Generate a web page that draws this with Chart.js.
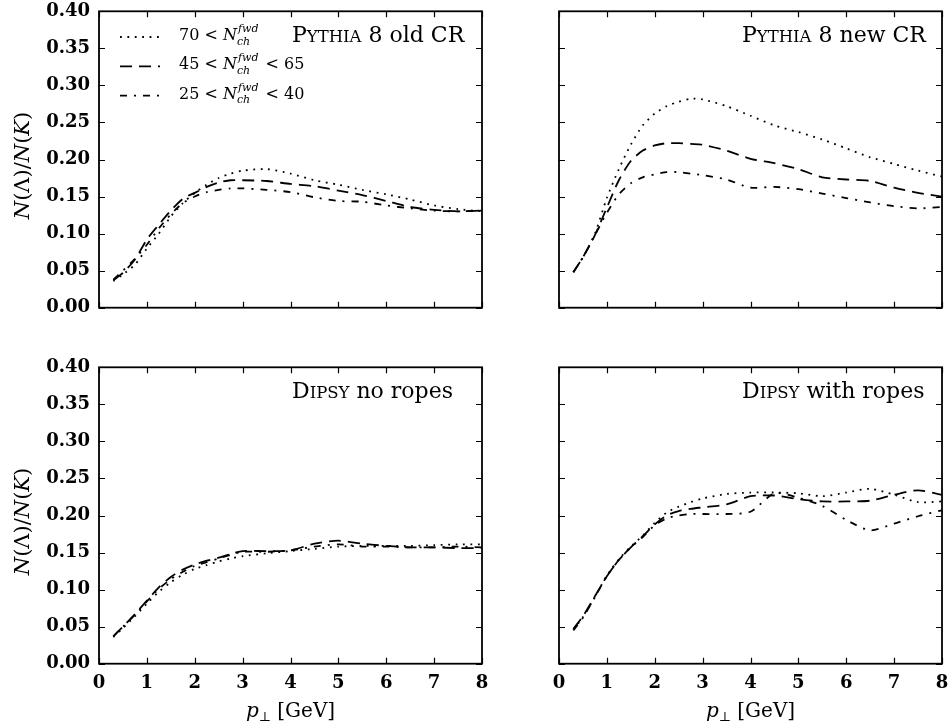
<!DOCTYPE html>
<html>
<head>
<meta charset="utf-8">
<script src="https://cdn.jsdelivr.net/npm/chart.js@4.4.1/dist/chart.umd.min.js"></script>
<style>
  html, body { margin: 0; padding: 0; background: #fff; }
  #wrap { position: relative; width: 949px; height: 727px; }
  #wrap canvas { position: absolute; left: 0; top: 0; }
</style>
</head>
<body>
<div id="wrap">
  <canvas id="c0" width="949" height="727"></canvas>
  <canvas id="c1" width="949" height="727"></canvas>
  <canvas id="c2" width="949" height="727"></canvas>
  <canvas id="c3" width="949" height="727"></canvas>
</div>
<script>
// p_perp bins [GeV]
const pT = [0.3, 0.5, 0.75, 1.0, 1.25, 1.5, 1.75, 2.0, 2.25, 2.5, 2.75, 3.0, 3.5, 4.0, 4.5, 5.0, 5.5, 6.0, 6.5, 7.0, 7.5, 8.0];

// Pythia 8 old CR
const oldCR70 = [0.036, 0.045, 0.058, 0.080, 0.100, 0.123, 0.141, 0.155, 0.166, 0.175, 0.181, 0.185, 0.187, 0.181, 0.172, 0.166, 0.159, 0.153, 0.146, 0.138, 0.133, 0.130];
const oldCR45 = [0.037, 0.047, 0.065, 0.092, 0.112, 0.131, 0.147, 0.155, 0.163, 0.169, 0.172, 0.172, 0.171, 0.167, 0.164, 0.158, 0.152, 0.144, 0.136, 0.132, 0.130, 0.131];
const oldCR25 = [0.038, 0.050, 0.066, 0.085, 0.107, 0.126, 0.141, 0.150, 0.156, 0.159, 0.161, 0.161, 0.159, 0.156, 0.149, 0.144, 0.143, 0.138, 0.134, 0.131, 0.130, 0.131];

// Pythia 8 new CR
const newCR70 = [0.048, 0.068, 0.100, 0.148, 0.187, 0.220, 0.246, 0.262, 0.272, 0.278, 0.282, 0.281, 0.272, 0.259, 0.246, 0.237, 0.227, 0.215, 0.203, 0.194, 0.185, 0.177];
const newCR45 = [0.048, 0.068, 0.098, 0.135, 0.172, 0.198, 0.212, 0.219, 0.222, 0.222, 0.221, 0.220, 0.212, 0.201, 0.195, 0.187, 0.176, 0.173, 0.171, 0.162, 0.155, 0.150];
const newCR25 = [0.048, 0.068, 0.098, 0.128, 0.153, 0.168, 0.176, 0.180, 0.183, 0.183, 0.181, 0.179, 0.173, 0.162, 0.163, 0.160, 0.154, 0.148, 0.142, 0.137, 0.134, 0.136];

// Dipsy no ropes
const noRopes70 = [0.036, 0.048, 0.064, 0.081, 0.097, 0.110, 0.120, 0.128, 0.133, 0.138, 0.142, 0.145, 0.149, 0.152, 0.155, 0.158, 0.159, 0.159, 0.159, 0.160, 0.161, 0.161];
const noRopes45 = [0.037, 0.050, 0.067, 0.085, 0.103, 0.117, 0.127, 0.134, 0.139, 0.143, 0.148, 0.152, 0.152, 0.153, 0.162, 0.166, 0.162, 0.159, 0.157, 0.157, 0.156, 0.156];
const noRopes25 = [0.037, 0.050, 0.066, 0.084, 0.101, 0.114, 0.124, 0.132, 0.137, 0.142, 0.147, 0.151, 0.151, 0.153, 0.158, 0.161, 0.158, 0.158, 0.157, 0.157, 0.158, 0.157];

// Dipsy with ropes
const ropes70 = [0.046, 0.063, 0.090, 0.119, 0.141, 0.158, 0.173, 0.190, 0.204, 0.212, 0.218, 0.223, 0.229, 0.231, 0.231, 0.230, 0.226, 0.231, 0.236, 0.228, 0.218, 0.219];
const ropes45 = [0.047, 0.064, 0.091, 0.118, 0.140, 0.157, 0.172, 0.188, 0.200, 0.206, 0.209, 0.211, 0.215, 0.226, 0.227, 0.222, 0.219, 0.219, 0.220, 0.228, 0.234, 0.228];
const ropes25 = [0.045, 0.062, 0.090, 0.118, 0.140, 0.157, 0.171, 0.187, 0.196, 0.200, 0.202, 0.202, 0.202, 0.205, 0.230, 0.224, 0.213, 0.194, 0.180, 0.189, 0.199, 0.207];

const xTickLabels = ['0', '1', '2', '3', '4', '5', '6', '7', '8'];
const yTickLabels = ['0.00', '0.05', '0.10', '0.15', '0.20', '0.25', '0.30', '0.35', '0.40'];

// legend: "lo < N_ch^fwd < hi"
const binLow = ['70', '45', '25'];
const binHigh = ['', '65', '40'];

const SERIF = '"DejaVu Serif", "Liberation Serif", serif';
const W = 949, H = 727;
const Y_W = 90, X_H = 60;
const dashes = [[1.8, 5.6], [12, 7], [7, 7, 2, 7]];

const panels = [
  { id: 'c0', sets: [oldCR70, oldCR45, oldCR25], left: 99, right: 482, top: 11.3, bottom: 307.7,
    yAxis: true, xAxis: false, legend: true, titleX: 292,
    title: [['P', 22], ['YTHIA', 16.5], [' 8 old CR', 22]] },
  { id: 'c1', sets: [newCR70, newCR45, newCR25], left: 559, right: 942, top: 11.3, bottom: 307.7,
    yAxis: false, xAxis: false, legend: false, titleX: 742,
    title: [['P', 22], ['YTHIA', 16.5], [' 8 new CR', 22]] },
  { id: 'c2', sets: [noRopes70, noRopes45, noRopes25], left: 99, right: 482, top: 367.3, bottom: 663.7,
    yAxis: true, xAxis: true, legend: false, titleX: 292,
    title: [['D', 22], ['IPSY', 16.5], [' no ropes', 22]] },
  { id: 'c3', sets: [ropes70, ropes45, ropes25], left: 559, right: 942, top: 367.3, bottom: 663.7,
    yAxis: false, xAxis: true, legend: false, titleX: 742,
    title: [['D', 22], ['IPSY', 16.5], [' with ropes', 22]] }
];

function textRun(ctx, x, y, parts) {
  for (const p of parts) {
    ctx.font = p.f;
    ctx.fillText(p.t, x, y + (p.dy || 0));
    x += ctx.measureText(p.t).width;
  }
  return x;
}

function runWidth(ctx, parts) {
  let w = 0;
  for (const p of parts) { ctx.font = p.f; w += ctx.measureText(p.t).width; }
  return w;
}

function decor(panel) {
  return {
    id: 'decor',
    afterDraw(chart) {
      const { ctx, chartArea: a, scales: { x, y } } = chart;
      ctx.save();
      ctx.strokeStyle = '#000';
      ctx.fillStyle = '#000';

      // inward ticks on all four sides
      ctx.lineWidth = 1.2;
      ctx.beginPath();
      x.ticks.forEach(t => {
        const px = Math.round(x.getPixelForValue(t.value)) + 0.5;
        ctx.moveTo(px, a.bottom); ctx.lineTo(px, a.bottom - 6);
        ctx.moveTo(px, a.top); ctx.lineTo(px, a.top + 6);
      });
      y.ticks.forEach(t => {
        const py = Math.round(y.getPixelForValue(t.value)) + 0.5;
        ctx.moveTo(a.left, py); ctx.lineTo(a.left + 6, py);
        ctx.moveTo(a.right, py); ctx.lineTo(a.right - 6, py);
      });
      ctx.stroke();

      // frame
      ctx.lineWidth = 1.8;
      ctx.strokeRect(a.left, a.top, a.right - a.left, a.bottom - a.top);

      // panel title with small caps
      ctx.textBaseline = 'alphabetic';
      ctx.textAlign = 'left';
      textRun(ctx, panel.titleX, a.top + 30.4,
        panel.title.map(([t, s]) => ({ t, f: s + 'px ' + SERIF })));

      // legend
      if (panel.legend) {
        const f = '16px ' + SERIF, fi = 'italic 16px ' + SERIF, fs = 'italic 11px ' + SERIF;
        [0, 1, 2].forEach(i => {
          const base = a.top + 28.7 + i * 29.3;
          ctx.save();
          ctx.lineWidth = 1.8;
          ctx.setLineDash(dashes[i]);
          ctx.beginPath();
          ctx.moveTo(120, base - 3); ctx.lineTo(160, base - 3);
          ctx.stroke();
          ctx.restore();
          let cx = textRun(ctx, 179, base, [{ t: binLow[i] + ' < ', f }, { t: 'N', f: fi }]);
          ctx.font = fs;
          ctx.fillText('fwd', cx + 1, base - 8);
          ctx.fillText('ch', cx, base + 4.5);
          cx += ctx.measureText('fwd').width + 3;
          if (binHigh[i]) textRun(ctx, cx, base, [{ t: ' < ' + binHigh[i], f }]);
        });
      }

      // y axis title N(Λ)/N(K)
      if (panel.yAxis) {
        const f = '21px ' + SERIF, fi = 'italic 21px ' + SERIF;
        const parts = [{ t: 'N', f: fi }, { t: '(Λ)/', f }, { t: 'N', f: fi }, { t: '(', f }, { t: 'K', f: fi }, { t: ')', f }];
        ctx.save();
        ctx.translate(29, (a.top + a.bottom) / 2 + 6);
        ctx.rotate(-Math.PI / 2);
        textRun(ctx, -runWidth(ctx, parts) / 2, 0, parts);
        ctx.restore();
      }

      // x axis title p_perp [GeV]
      if (panel.xAxis) {
        const parts = [
          { t: 'p', f: 'italic 20px ' + SERIF },
          { t: '⊥', f: '13px ' + SERIF, dy: 4 },
          { t: ' [GeV]', f: '20px ' + SERIF }
        ];
        textRun(ctx, (a.left + a.right) / 2 - runWidth(ctx, parts) / 2, a.bottom + 53.5, parts);
      }
      ctx.restore();
    }
  };
}

panels.forEach(panel => {
  const ctx = document.getElementById(panel.id).getContext('2d');
  new Chart(ctx, {
    type: 'line',
    data: {
      datasets: panel.sets.map((s, i) => ({
        label: binLow[i],
        data: pT.map((v, j) => ({ x: v, y: s[j] })),
        borderColor: '#000',
        borderWidth: 1.8,
        borderDash: dashes[i],
        pointRadius: 0,
        tension: 0.25,
        fill: false
      }))
    },
    options: {
      responsive: false,
      animation: false,
      devicePixelRatio: 1,
      events: [],
      layout: {
        padding: {
          left: panel.left - Y_W,
          top: panel.top,
          right: W - panel.right,
          bottom: H - panel.bottom - X_H
        }
      },
      plugins: { legend: { display: false }, tooltip: { enabled: false } },
      scales: {
        x: {
          type: 'linear', min: 0, max: 8,
          afterBuildTicks: s => { s.ticks = xTickLabels.map(l => ({ value: parseFloat(l) })); },
          afterFit: s => { s.height = X_H; s.paddingLeft = 0; s.paddingRight = 0; },
          grid: { display: false, drawTicks: false },
          border: { display: false },
          ticks: {
            display: panel.xAxis, autoSkip: false, maxRotation: 0, padding: 9,
            color: '#000', font: { family: SERIF, size: 18, weight: 'bold' },
            callback: (v, i) => xTickLabels[i]
          }
        },
        y: {
          type: 'linear', min: 0, max: 0.4,
          afterBuildTicks: s => { s.ticks = yTickLabels.map(l => ({ value: parseFloat(l) })); },
          afterFit: s => { s.width = Y_W; s.paddingTop = 0; s.paddingBottom = 0; },
          grid: { display: false, drawTicks: false },
          border: { display: false },
          ticks: {
            display: panel.yAxis, autoSkip: false, padding: 9,
            color: '#000', font: { family: SERIF, size: 18, weight: 'bold' },
            callback: (v, i) => yTickLabels[i]
          }
        }
      }
    },
    plugins: [decor(panel)]
  });
});
</script>
</body>
</html>
